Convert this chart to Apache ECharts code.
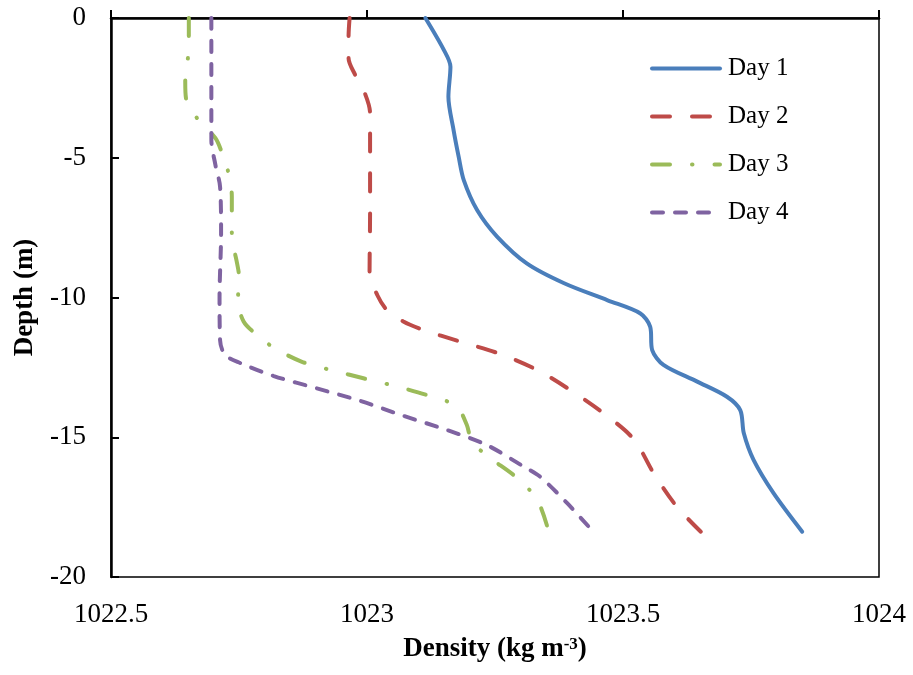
<!DOCTYPE html>
<html>
<head>
<meta charset="utf-8">
<script src="https://cdn.jsdelivr.net/npm/echarts@6/dist/echarts.min.js"></script>
<style>
  html, body { margin: 0; padding: 0; background: #fff; }
  #chart { width: 913px; height: 675px; }
</style>
</head>
<body>
<div id="chart"></div>
<script>
var seriesNames = ['Day 1', 'Day 2', 'Day 3', 'Day 4'];
var xTickLabels = ['1022.5', '1023', '1023.5', '1024'];
var yTickLabels = ['-20', '-15', '-10', '-5', '0'];

var day1Density = [1023.114, 1023.150, 1023.163, 1023.159, 1023.169, 1023.179, 1023.189, 1023.215, 1023.254, 1023.312, 1023.385, 1023.470, 1023.534, 1023.553, 1023.557, 1023.579, 1023.645, 1023.703, 1023.729, 1023.736, 1023.755, 1023.794, 1023.850];
var day1Depth = [0, -1.14, -1.74, -2.82, -4.0, -4.96, -5.8, -6.87, -7.82, -8.78, -9.49, -10.1, -10.57, -11.04, -11.88, -12.41, -13.01, -13.55, -14.03, -14.86, -15.81, -17.0, -18.38];

var day2Density = [1022.966, 1022.964, 1022.964, 1022.977, 1022.997, 1023.006, 1023.006, 1023.006, 1023.005, 1023.020, 1023.039, 1023.071, 1023.107, 1023.182, 1023.257, 1023.332, 1023.397, 1023.462, 1023.521, 1023.560, 1023.605, 1023.652];
var day2Depth = [0, -0.67, -1.44, -2.04, -2.75, -3.41, -4.84, -6.98, -9.13, -9.91, -10.45, -10.86, -11.14, -11.58, -12.0, -12.59, -13.31, -14.14, -15.07, -16.29, -17.48, -18.38];

var day3Density = [1022.652, 1022.652, 1022.650, 1022.645, 1022.647, 1022.670, 1022.704, 1022.717, 1022.730, 1022.736, 1022.736, 1022.736, 1022.745, 1022.750, 1022.748, 1022.759, 1022.785, 1022.820, 1022.873, 1022.935, 1022.993, 1023.055, 1023.117, 1023.174, 1023.195, 1023.205, 1023.239, 1023.290, 1023.332, 1023.355];
var day3Depth = [0, -0.66, -1.48, -2.28, -2.93, -3.63, -4.3, -4.84, -5.59, -6.39, -6.99, -7.85, -8.66, -9.25, -10.09, -10.86, -11.34, -11.82, -12.3, -12.62, -12.89, -13.17, -13.49, -13.88, -14.56, -15.16, -15.72, -16.41, -17.22, -18.38];

var day4Density = [1022.696, 1022.696, 1022.696, 1022.704, 1022.713, 1022.715, 1022.712, 1022.713, 1022.723, 1022.753, 1022.818, 1022.902, 1022.987, 1023.072, 1023.156, 1023.234, 1023.306, 1023.338, 1023.391, 1023.436];
var day4Depth = [0, -2.93, -4.36, -5.26, -6.03, -7.7, -9.97, -11.52, -12.06, -12.35, -12.81, -13.25, -13.7, -14.24, -14.74, -15.28, -16.05, -16.41, -17.36, -18.26];

var colors = ['#4A7EBB', '#BE4B48', '#9BBB59', '#7F63A1'];
var dashes = ['solid', [18, 22], [18, 22, 0.5, 22], [11, 12]];

function zip(xs, ys) {
  var out = [];
  for (var i = 0; i < xs.length; i++) out.push([xs[i], ys[i]]);
  return out;
}

var allData = [
  zip(day1Density, day1Depth),
  zip(day2Density, day2Depth),
  zip(day3Density, day3Depth),
  zip(day4Density, day4Depth)
];

var font = '"Liberation Serif", "Times New Roman", serif';

var myChart = echarts.init(document.getElementById('chart'), null, { renderer: 'canvas' });

var option = {
  animation: false,
  textStyle: { fontFamily: font, color: '#000' },
  grid: {
    left: 111, top: 18, right: 34, bottom: 98,
    show: true, borderColor: '#000', borderWidth: 1.5, backgroundColor: 'transparent'
  },
  legend: {
    left: 645, top: 51, orient: 'vertical',
    itemWidth: 68, itemHeight: 14, itemGap: 23,
    data: seriesNames,
    itemStyle: { opacity: 0 },
    lineStyle: { width: 4, cap: 'round', opacity: 1 },
    textStyle: { fontFamily: font, fontSize: 25, lineHeight: 25, color: '#000', padding: [0, 0, 0, 3] }
  },
  xAxis: {
    type: 'value', min: 1022.5, max: 1024, interval: 0.5,
    name: 'Density (kg m{sup|-3})',
    nameLocation: 'middle', nameGap: 59,
    nameTextStyle: {
      fontFamily: font, fontSize: 27, fontWeight: 'bold', color: '#000',
      rich: {
        sup: { fontFamily: font, fontSize: 17, fontWeight: 'bold', color: '#000', verticalAlign: 'top', padding: [0, 0, 10, 0] }
      }
    },
    axisLine: { lineStyle: { color: '#000', width: 2.5 } },
    axisTick: { inside: true, length: 8, lineStyle: { color: '#000', width: 2 } },
    axisLabel: {
      fontFamily: font, fontSize: 27, color: '#000', margin: 24,
      formatter: function (v) {
        var i = Math.round((v - 1022.5) / 0.5);
        return xTickLabels[i] !== undefined ? xTickLabels[i] : String(v);
      }
    },
    splitLine: { show: false }
  },
  yAxis: {
    type: 'value', min: -20, max: 0, interval: 5,
    name: 'Depth (m)',
    nameLocation: 'middle', nameGap: 72, nameRotate: 90,
    nameTextStyle: { fontFamily: font, fontSize: 27, fontWeight: 'bold', color: '#000' },
    axisLine: { lineStyle: { color: '#000', width: 2.5 } },
    axisTick: { inside: true, length: 8, lineStyle: { color: '#000', width: 2 } },
    axisLabel: {
      fontFamily: font, fontSize: 27, color: '#000', margin: 25,
      formatter: function (v) {
        var i = Math.round((v + 20) / 5);
        return yTickLabels[i] !== undefined ? yTickLabels[i] : String(v);
      }
    },
    splitLine: { show: false }
  },
  series: seriesNames.map(function (name, i) {
    return {
      name: name,
      type: 'line',
      data: allData[i],
      smooth: 0.3,
      symbol: 'none',
      clip: false,
      lineStyle: { color: colors[i], width: 4, type: dashes[i], cap: 'round' },
      itemStyle: { color: colors[i] }
    };
  })
};

myChart.setOption(option);
</script>
</body>
</html>
